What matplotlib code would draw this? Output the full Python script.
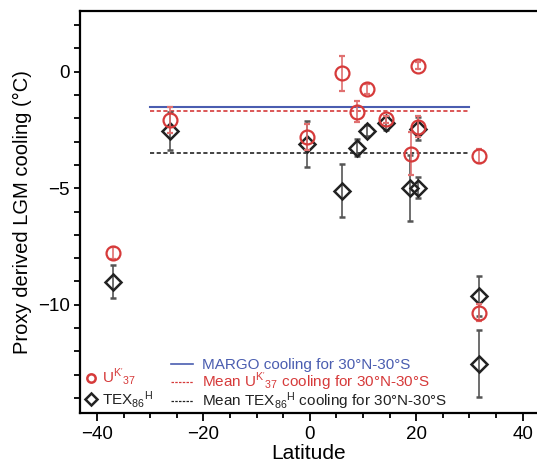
import numpy as np
import matplotlib
matplotlib.use("Agg")
import matplotlib.pyplot as plt
from matplotlib.lines import Line2D

plt.rcParams['font.family'] = ['Liberation Sans', 'DejaVu Sans']
plt.rcParams['mathtext.fontset'] = 'custom'
plt.rcParams['mathtext.rm'] = 'Liberation Sans'
plt.rcParams['mathtext.it'] = 'Liberation Sans:italic'

# UK'37 proxy cooling
uk_lat = [-37.0, -26.3, -0.6, 6.0, 8.8, 10.8, 14.4, 19.0, 20.4, 20.4, 31.8, 31.8]
uk_val = [-7.77, -2.07, -2.79, -0.07, -1.72, -0.74, -2.04, -3.53, 0.26, -2.36, -3.62, -10.33]
uk_err = [0.25, 0.57, 0.55, 0.75, 0.45, 0.2, 0.15, 0.92, 0.15, 0.45, 0.3, 0.36]

# TEX86H proxy cooling
tex_lat = [-37.0, -26.3, -0.6, 6.0, 8.8, 10.8, 14.4, 18.8, 20.4, 20.4, 31.8, 31.8]
tex_val = [-9.01, -2.55, -3.1, -5.1, -3.26, -2.53, -2.19, -5.0, -4.98, -2.45, -9.61, -12.52]
tex_err = [0.7, 0.8, 1.0, 1.13, 0.35, 0.25, 0.3, 1.42, 0.45, 0.5, 0.85, 1.42]

# tropical (30N-30S) means
band = [-30, 30]
margo_mean = -1.5
uk_mean = -1.69
tex_mean = -3.48

RED = '#d63a3a'
RED_ERR = '#e07070'
BLUE = '#4a5db0'
BLACK = '#222222'

fig = plt.figure(figsize=(5.37, 4.68), dpi=100)
ax = fig.add_axes([0.149, 0.118, 0.851, 0.8585])

ax.plot(band, [margo_mean] * 2, color=BLUE, lw=1.5, zorder=1)
ax.plot(band, [uk_mean] * 2, color=RED, lw=1.2, ls=(0, (2.5, 1.5)), zorder=1)
ax.plot(band, [tex_mean] * 2, color=BLACK, lw=1.2, ls=(0, (2.5, 1.5)), zorder=1)

ax.errorbar(tex_lat, tex_val, yerr=tex_err, fmt='D', ms=7.8, mfc='none', mec=BLACK, mew=1.8,
            ecolor='#555555', elinewidth=1.2, capsize=2.5, capthick=1.2, zorder=3)
ax.errorbar(uk_lat, uk_val, yerr=uk_err, fmt='o', ms=10, mfc='none', mec=RED, mew=1.6,
            ecolor=RED_ERR, elinewidth=1.2, capsize=2.5, capthick=1.2, zorder=4)

ax.set_xlim(-43.2, 42.7)
ax.set_ylim(-14.63, 2.6)
ax.set_xticks([-40, -20, 0, 20, 40])
ax.set_xticks(np.arange(-40, 41, 5), minor=True)
ax.set_yticks([-10, -5, 0])
ax.set_yticks(np.arange(-14, 3, 1), minor=True)
ax.set_xticklabels(['\u221240', '\u221220', '0', '20', '40'])
ax.set_yticklabels(['\u221210', '\u22125', '0'])
ax.tick_params(axis='x', which='major', length=6, width=1.3, labelsize=13.5, direction='out')
ax.tick_params(axis='x', which='minor', length=3.5, width=1.3, direction='out')
ax.tick_params(axis='y', which='both', length=4, width=1.3, labelsize=13.5, direction='out')
for s in ['left', 'bottom', 'top']:
    ax.spines[s].set_linewidth(1.6)
ax.spines['right'].set_visible(False)

ax.set_xlabel('Latitude', fontsize=15, labelpad=1)
ax.set_ylabel('Proxy derived LGM cooling (\u00b0C)', fontsize=14.5, labelpad=4)

mk_handles = [
    Line2D([], [], ls='none', marker='o', ms=6, mfc='none', mec=RED, mew=1.8),
    Line2D([], [], ls='none', marker='D', ms=6, mfc='none', mec=BLACK, mew=1.8),
]
leg1 = ax.legend(mk_handles, ["U$^{\\mathrm{K'}}{}_{37}$", "TEX$_{86}{}^{\\mathrm{H}}$"],
                 loc='lower left', bbox_to_anchor=(-0.005, -0.016), frameon=False,
                 fontsize=11, handlelength=0.6, handletextpad=0.4, labelspacing=0.1,
                 labelcolor=[RED, BLACK], borderaxespad=0.2)
ax.add_artist(leg1)

ln_handles = [
    Line2D([], [], color=BLUE, lw=1.2),
    Line2D([], [], color=RED, lw=0.9, ls=(0, (2, 1))),
    Line2D([], [], color=BLACK, lw=0.9, ls=(0, (2, 1))),
]
ln_labels = ['MARGO cooling for 30\u00b0N-30\u00b0S',
             "Mean U$^{\\mathrm{K'}}{}_{37}$ cooling for 30\u00b0N-30\u00b0S",
             "Mean TEX$_{86}{}^{\\mathrm{H}}$ cooling for 30\u00b0N-30\u00b0S"]
ax.legend(ln_handles, ln_labels, loc='lower left', bbox_to_anchor=(0.178, -0.022),
          frameon=False, fontsize=11, handlelength=1.45, handletextpad=0.6,
          labelspacing=-0.1, labelcolor=[BLUE, RED, BLACK], borderaxespad=0.2)

fig.savefig('out.png', dpi=100)
